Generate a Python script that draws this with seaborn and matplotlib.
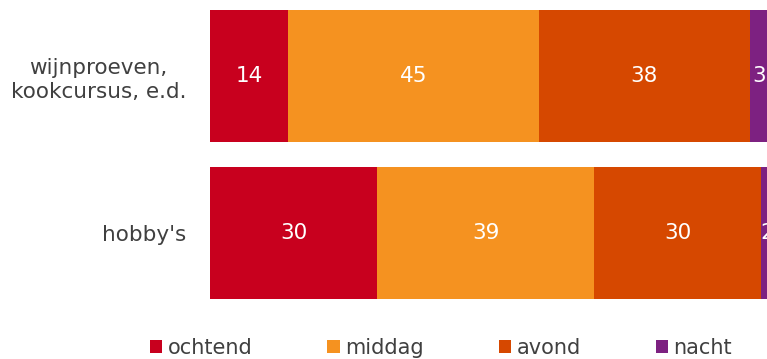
import matplotlib
matplotlib.use("Agg")
import matplotlib.pyplot as plt
import seaborn as sns
import pandas as pd
import numpy as np
from matplotlib.patches import Patch

categories = ["wijnproeven,\nkookcursus, e.d.", "hobby's"]
series = ["ochtend", "middag", "avond", "nacht"]
ochtend = [14, 30]
middag = [45, 39]
avond = [38, 30]
nacht = [3, 2]
colors = ["#C8001E", "#F59220", "#D64800", "#7D2181"]

values = [ochtend, middag, avond, nacht]

sns.set_theme(style="white")
plt.rcParams["font.family"] = ["DejaVu Sans"]

fig = plt.figure(figsize=(7.67, 3.59), dpi=100)
ax = fig.add_axes([210 / 767, 0.1326, 101 * 5.57 / 767, 0.8395])

cum = np.cumsum(np.array(values, dtype=float), axis=0)
# draw cumulative layers from the largest to the smallest
for i in range(len(series) - 1, -1, -1):
    df = pd.DataFrame({"cat": categories, "val": cum[i]})
    sns.barplot(data=df, x="val", y="cat", order=categories, orient="h",
                color=colors[i], saturation=1, width=0.84, linewidth=0,
                ax=ax)

for i in range(len(series)):
    for j in range(len(categories)):
        start = cum[i][j] - values[i][j]
        ax.text(start + values[i][j] / 2, j, str(values[i][j]),
                ha="center", va="center", color="white", fontsize=15.5)

ax.set_xlim(0, 101)
ax.set_ylim(1.5, -0.42)
ax.set_xlabel("")
ax.set_ylabel("")
ax.set_xticks([])
for s in ax.spines.values():
    s.set_visible(False)
ax.tick_params(axis="y", length=0, pad=17, labelsize=15.5, labelcolor="#404040")
for lab in ax.get_yticklabels():
    lab.set_multialignment("center")
    lab.set_linespacing(1.25)

handles = [Patch(facecolor=c, edgecolor="none", label=s) for s, c in zip(series, colors)]
fig.legend(handles=handles, loc="center", bbox_to_anchor=(441 / 767, 1 - 348 / 359),
           ncol=4, frameon=False, fontsize=15, handlelength=0.6, handleheight=0.55,
           handletextpad=0.25, columnspacing=3.6, borderpad=0, labelcolor="#404040")

fig.savefig("out.png", dpi=100)
